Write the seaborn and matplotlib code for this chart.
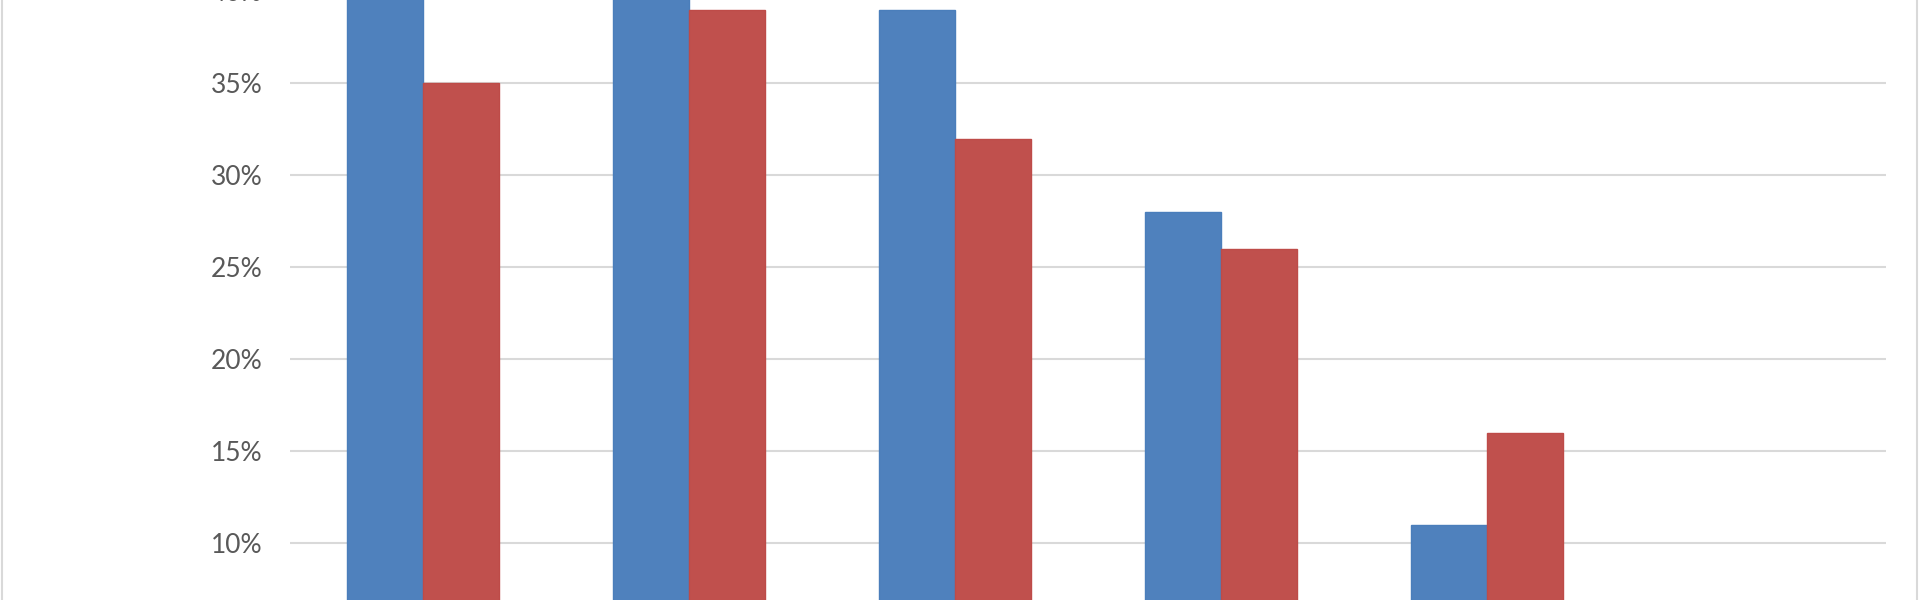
import pandas as pd
import seaborn as sns
import matplotlib.pyplot as plt
from matplotlib.lines import Line2D
from matplotlib.ticker import PercentFormatter

# --- données ---
categories = ['A', 'B', 'C', 'D', 'E', 'F']
serie_1 = [44, 47, 39, 28, 11, 5]
serie_2 = [35, 39, 32, 26, 16, 4]
ticks = [10, 15, 20, 25, 30, 35, 40]

df = pd.DataFrame({
    'cat': categories * 2,
    'val': serie_1 + serie_2,
    'serie': ['S1'] * len(categories) + ['S2'] * len(categories),
})

sns.set_theme(style='white')
plt.rcParams['font.family'] = ['Lato', 'DejaVu Sans']

fig = plt.figure(figsize=(19.2, 6), dpi=100)
# axe plus grand que la figure : l'image d'origine est recadrée
ax = fig.add_axes([290 / 1920, -127.3 / 600, 1596 / 1920, 828 / 600])

sns.barplot(data=df, x='cat', y='val', hue='serie',
            palette=['#4F81BD', '#C0504D'], width=0.57, gap=0,
            legend=False, ax=ax, saturation=1)

for bar in ax.patches[:len(categories)]:
    bar.set_edgecolor('#4A7EBB')
    bar.set_linewidth(1)
for bar in ax.patches[len(categories):]:
    bar.set_edgecolor('#BE4B48')
    bar.set_linewidth(1)

ax.set_ylim(0, 45)
ax.set_xlim(-0.5, len(categories) - 0.5)
ax.set_yticks(ticks)
ax.yaxis.set_major_formatter(PercentFormatter(decimals=0))
ax.yaxis.grid(True, color='#D9D9D9', linewidth=1.5)
ax.set_axisbelow(True)
ax.tick_params(axis='y', length=0, pad=20, labelsize=19, labelcolor='#595959')
ax.set_xticks([])
ax.set_xlabel('')
ax.set_ylabel('')
for s in ax.spines.values():
    s.set_visible(False)

# bordure de la zone graphique
for x in (2 / 1920, 1917 / 1920):
    fig.add_artist(Line2D([x, x], [0, 1], transform=fig.transFigure,
                          color='#D9D9D9', linewidth=1.5))

fig.savefig('out.png', dpi=100)
